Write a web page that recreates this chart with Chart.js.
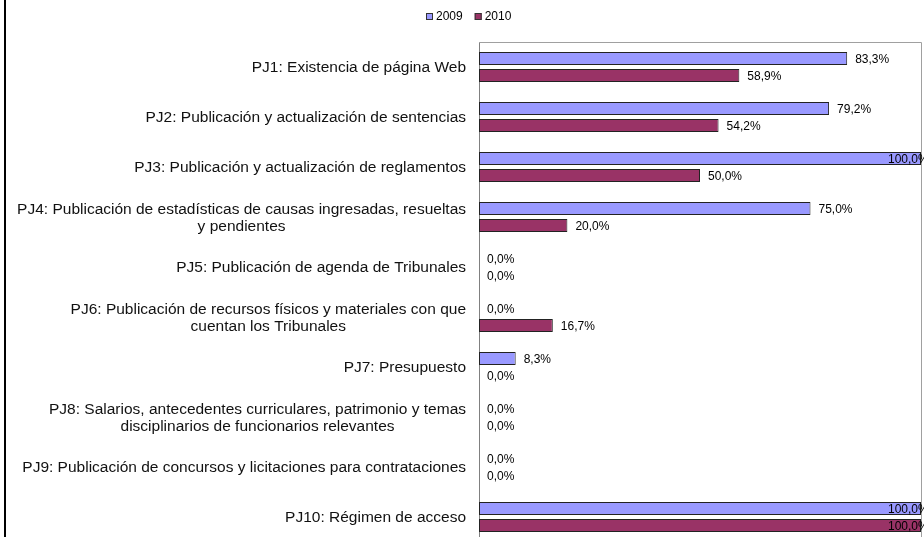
<!DOCTYPE html>
<html>
<head>
<meta charset="utf-8">
<title>PJ indicadores 2009 / 2010</title>
<script src="https://cdn.jsdelivr.net/npm/chart.js@4.4.1/dist/chart.umd.min.js"></script>
<style>
  html, body { margin: 0; padding: 0; background: #fff; overflow: hidden; }
  #wrap { width: 924px; height: 560px; }
</style>
</head>
<body>
<div id="wrap"><canvas id="chart" width="924" height="560"></canvas></div>
<script>
// ---------- Data ----------
const categories = [
  "PJ1: Existencia de página Web",
  "PJ2: Publicación y actualización de sentencias",
  "PJ3: Publicación y actualización de reglamentos",
  ["PJ4: Publicación de estadísticas de causas ingresadas, resueltas", "y pendientes"],
  "PJ5: Publicación de agenda de Tribunales",
  ["PJ6: Publicación de recursos físicos y materiales con que", "cuentan los Tribunales"],
  "PJ7: Presupuesto",
  ["PJ8: Salarios, antecedentes curriculares, patrimonio y temas", "disciplinarios de funcionarios relevantes"],
  "PJ9: Publicación de concursos y licitaciones para contrataciones",
  "PJ10: Régimen de acceso"
];
const seriesNames = ["2009", "2010"];
const values2009 = [83.3, 79.2, 100, 75, 0, 0, 8.3, 0, 0, 100];
const values2010 = [58.9, 54.2, 50, 20, 0, 16.7, 0, 0, 0, 100];

const FONT = "'Liberation Sans', Arial, sans-serif";
const colors = ["#9999FF", "#993366"];

function fmt(v) {
  return v.toFixed(1).replace(".", ",") + "%";
}

// ---------- Extra drawing (labels, legend, frame) ----------
const decorPlugin = {
  id: "decor",
  beforeDatasetsDraw(chart) {
    const { ctx, chartArea: a } = chart;
    ctx.save();
    // plot frame (top + right)
    ctx.strokeStyle = "#a0a0a0";
    ctx.lineWidth = 1;
    ctx.beginPath();
    ctx.moveTo(a.left, a.top + 0.5);
    ctx.lineTo(a.right + 0.5, a.top + 0.5);
    ctx.lineTo(a.right + 0.5, a.bottom);
    ctx.stroke();
    // outer chart border on the left
    ctx.strokeStyle = "#000";
    ctx.lineWidth = 2;
    ctx.beginPath();
    ctx.moveTo(5, 0);
    ctx.lineTo(5, chart.height);
    ctx.stroke();
    ctx.restore();
  },
  afterDatasetsDraw(chart) {
    const { ctx } = chart;
    const yScale = chart.scales.y;
    ctx.save();

    // category labels: block right aligned to the axis, lines centred
    ctx.font = "15.5px " + FONT;
    ctx.fillStyle = "#111";
    ctx.textBaseline = "middle";
    ctx.textAlign = "center";
    const right = 466, lineH = 17.5;
    categories.forEach((lab, i) => {
      const lines = Array.isArray(lab) ? lab : [lab];
      const w = Math.max(...lines.map(l => ctx.measureText(l).width));
      const cx = right - w / 2;
      const cy = yScale.getPixelForValue(i);
      lines.forEach((l, k) => {
        ctx.fillText(l, cx, cy + (k - (lines.length - 1) / 2) * lineH + 1);
      });
    });

    // value labels
    ctx.font = "12px " + FONT;
    ctx.fillStyle = "#000";
    ctx.textAlign = "left";
    chart.data.datasets.forEach((ds, di) => {
      const meta = chart.getDatasetMeta(di);
      meta.data.forEach((el, i) => {
        const txt = fmt(ds.data[i]);
        const x = Math.min(el.x + 8, chart.width - 36);
        ctx.fillText(txt, x, el.y + 1);
      });
    });

    // legend
    let lx = 426;
    const ly = 16;
    seriesNames.forEach((name, i) => {
      ctx.fillStyle = colors[i];
      ctx.fillRect(lx, ly - 3, 7, 7);
      ctx.strokeStyle = "#333";
      ctx.lineWidth = 1;
      ctx.strokeRect(lx + 0.5, ly - 2.5, 6, 6);
      ctx.fillStyle = "#000";
      ctx.fillText(name, lx + 10, ly + 1);
      lx += 10 + ctx.measureText(name).width + 12;
    });
    ctx.restore();
  }
};

// ---------- Chart ----------
new Chart(document.getElementById("chart"), {
  type: "bar",
  data: {
    labels: categories,
    datasets: [
      { label: seriesNames[0], data: values2009, backgroundColor: colors[0] },
      { label: seriesNames[1], data: values2010, backgroundColor: colors[1] }
    ]
  },
  options: {
    indexAxis: "y",
    responsive: false,
    animation: false,
    layout: { padding: { top: 42, right: 3, bottom: 18, left: 0 } },
    datasets: {
      bar: {
        categoryPercentage: 0.68,
        barPercentage: 0.765,
        borderColor: "#222",
        borderWidth: ctx => (ctx.raw === 0 ? 0 : 1),
        borderSkipped: false
      }
    },
    plugins: {
      legend: { display: false },
      tooltip: { enabled: false }
    },
    scales: {
      x: { display: false, min: 0, max: 100 },
      y: {
        grid: { display: false },
        border: { display: true, color: "#808080", width: 1 },
        ticks: { display: false },
        afterFit: scale => { scale.width = 479; }
      }
    }
  },
  plugins: [decorPlugin]
});
</script>
</body>
</html>
